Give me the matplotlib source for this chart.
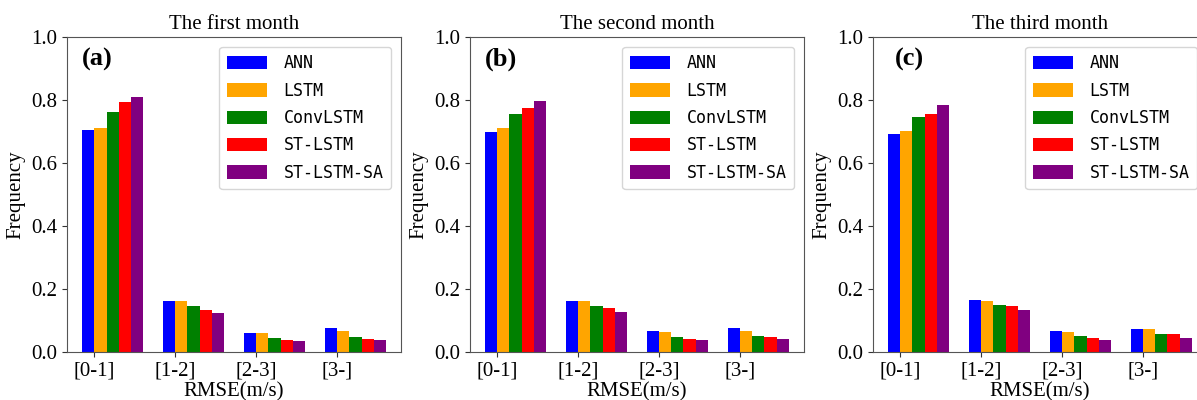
import numpy as np
import matplotlib
matplotlib.use("Agg")
import matplotlib.pyplot as plt

# RMSE bins and models
bins = ["[0-1]", "[1-2]", "[2-3]", "[3-]"]
models = ["ANN", "LSTM", "ConvLSTM", "ST-LSTM", "ST-LSTM-SA"]
colors = ["blue", "orange", "green", "red", "purple"]

titles = ["The first month", "The second month", "The third month"]
panel_tags = ["(a)", "(b)", "(c)"]

# frequency per model, per bin
month1 = {
    "ANN":        [0.705, 0.162, 0.061, 0.076],
    "LSTM":       [0.711, 0.163, 0.061, 0.067],
    "ConvLSTM":   [0.763, 0.146, 0.045, 0.049],
    "ST-LSTM":    [0.794, 0.133, 0.038, 0.040],
    "ST-LSTM-SA": [0.810, 0.123, 0.035, 0.037],
}
month2 = {
    "ANN":        [0.697, 0.163, 0.066, 0.076],
    "LSTM":       [0.710, 0.161, 0.063, 0.067],
    "ConvLSTM":   [0.756, 0.145, 0.047, 0.052],
    "ST-LSTM":    [0.774, 0.140, 0.040, 0.048],
    "ST-LSTM-SA": [0.798, 0.126, 0.037, 0.041],
}
month3 = {
    "ANN":        [0.693, 0.165, 0.068, 0.074],
    "LSTM":       [0.703, 0.162, 0.063, 0.072],
    "ConvLSTM":   [0.745, 0.150, 0.051, 0.056],
    "ST-LSTM":    [0.756, 0.145, 0.046, 0.056],
    "ST-LSTM-SA": [0.783, 0.134, 0.039, 0.046],
}
months = [month1, month2, month3]

plt.rcParams["font.family"] = "Liberation Serif"
plt.rcParams["font.size"] = 15

fig = plt.figure(figsize=(11.97, 4.0), dpi=100)
lefts = [0.056, 0.3926, 0.7293]
tag_x = [0.09, 0.093, 0.11]
w = 0.15
x = np.arange(len(bins))

for k in range(3):
    ax = fig.add_axes([lefts[k], 0.12, 0.279, 0.7875])
    data = months[k]
    for i, m in enumerate(models):
        ax.bar(x + (i - 0.5) * w, data[m], width=w, color=colors[i], label=m)
    ax.set_ylim(0, 1.0)
    ax.set_yticks([0.0, 0.2, 0.4, 0.6, 0.8, 1.0])
    ax.set_xticks(x)
    ax.set_xticklabels(bins)
    ax.set_ylabel("Frequency")
    ax.set_xlabel("RMSE(m/s)", labelpad=1)
    ax.set_title(titles[k], fontsize=15)
    for s in ax.spines.values():
        s.set_color("#555555")
    ax.tick_params(colors="#333333", labelcolor="black")
    ax.text(tag_x[k], 0.93, panel_tags[k], transform=ax.transAxes,
            ha="center", va="center", fontsize=19, fontweight="bold")
    ax.legend(loc="upper right", prop={"family": "DejaVu Sans Mono", "size": 12},
              handlelength=2.4, handleheight=0.85, handletextpad=1.0,
              labelspacing=0.56, borderpad=0.45, borderaxespad=0.6)

fig.savefig("out.png", dpi=100)
